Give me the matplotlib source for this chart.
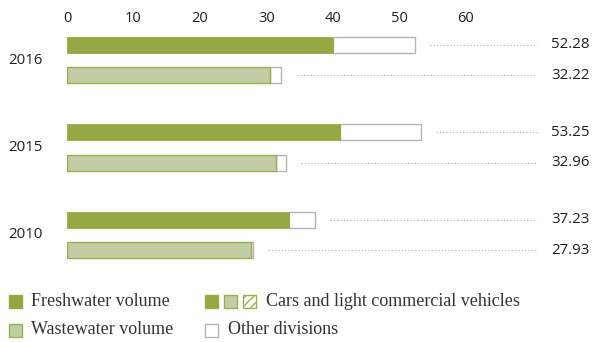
import matplotlib
matplotlib.use("Agg")
import matplotlib.pyplot as plt
from matplotlib.patches import Rectangle

years = ["2016", "2015", "2010"]
fresh_total = [52.28, 53.25, 37.23]
waste_total = [32.22, 32.96, 27.93]
fresh_cars = [40.0, 41.0, 33.4]
waste_cars = [30.5, 31.4, 27.7]
ticks = [0, 10, 20, 30, 40, 50, 60]

dark = "#96a843"
light = "#c2cda6"
edge_green = "#9aae4c"
edge_grey = "#b4b4b4"
txt = "#1e1e1e"
sans = "Open Sans"
serif = "Liberation Serif"

plt.rcParams["hatch.color"] = edge_green

fig = plt.figure(figsize=(5.95, 3.42), dpi=100)
ax = fig.add_axes([67 / 595, 0, 528 / 595, 1])
ax.set_xlim(0, 528 / 6.65)
ax.set_ylim(282 / 87.5, -60 / 87.5)
ax.axis("off")

off = 0.172
h = 0.183
line_end = (537 - 67) / 6.65
val_x = (590 - 67) / 6.65

for i, yr in enumerate(years):
    yf = i - off
    yw = i + off
    # freshwater
    ax.barh(yf, fresh_total[i] - fresh_cars[i], left=fresh_cars[i], height=h,
            color="white", edgecolor=edge_grey, linewidth=1)
    ax.barh(yf, fresh_cars[i], height=h, color=dark, edgecolor=dark, linewidth=0.6)
    # wastewater
    ax.barh(yw, waste_total[i] - waste_cars[i], left=waste_cars[i], height=h,
            color="white", edgecolor=edge_grey, linewidth=1)
    ax.barh(yw, waste_cars[i], height=h, color=light, edgecolor=edge_green, linewidth=1)
    # dotted leaders and values
    ax.plot([fresh_total[i] + 2.3, line_end], [yf, yf], ls=(0, (1, 2)), color="#aaaaaa", lw=0.8)
    ax.plot([waste_total[i] + 2.3, line_end], [yw, yw], ls=(0, (1, 2)), color="#aaaaaa", lw=0.8)
    ax.text(val_x, yf, f"{fresh_total[i]:.2f}", ha="right", va="center",
            fontsize=10.8, family=sans, color=txt)
    ax.text(val_x, yw, f"{waste_total[i]:.2f}", ha="right", va="center",
            fontsize=10.8, family=sans, color=txt)
    ax.text(-59 / 6.65, i, yr, ha="left", va="center", fontsize=10.8,
            family=sans, color=txt, clip_on=False)

for t in ticks:
    ax.text(t, -42 / 87.5, str(t), ha="center", va="center", fontsize=10.5,
            family=sans, color=txt)

# legend
W, H = 595, 342


def square(x, y, fc, ec, hatch=None):
    fig.add_artist(Rectangle((x / W, 1 - (y + 13) / H), 13 / W, 13 / H,
                             transform=fig.transFigure, facecolor=fc, edgecolor=ec,
                             linewidth=1, hatch=hatch))


square(9, 295, dark, dark)
square(9, 324, light, edge_green)
square(205, 295, dark, dark)
square(224, 295, light, edge_green)
square(243, 295, "white", edge_green, hatch="////")
square(205, 324, "white", edge_grey)

fs = 13
fig.text(31 / W, 1 - 301 / H, "Freshwater volume", ha="left", va="center",
         fontsize=fs, family=serif, color="#333333")
fig.text(31 / W, 1 - 330 / H, "Wastewater volume", ha="left", va="center",
         fontsize=fs, family=serif, color="#333333")
fig.text(266 / W, 1 - 301 / H, "Cars and light commercial vehicles", ha="left",
         va="center", fontsize=fs, family=serif, color="#333333")
fig.text(228 / W, 1 - 330 / H, "Other divisions", ha="left", va="center",
         fontsize=fs, family=serif, color="#333333")

fig.savefig("out.png", dpi=100, facecolor="white")
